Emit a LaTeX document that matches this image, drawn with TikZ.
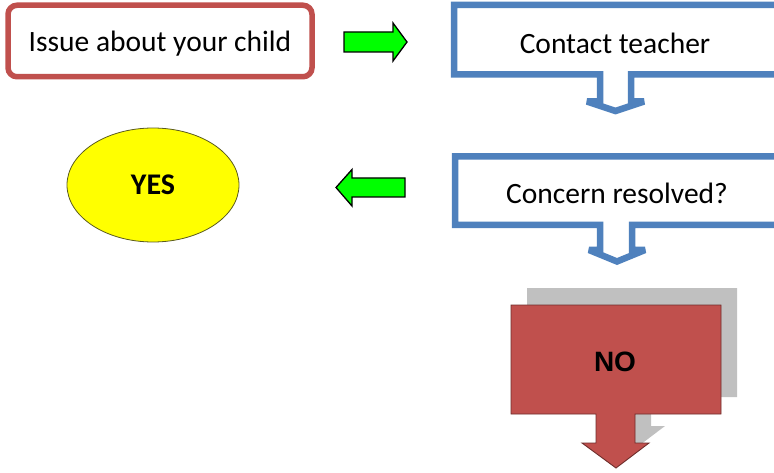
\documentclass[tikz,border=0pt]{standalone}
\usepackage{fontspec}
\setmainfont{Carlito}
\newfontfamily\nofont{Liberation Sans}
\usetikzlibrary{shapes.geometric}
\definecolor{issuered}{RGB}{192,80,77}
\definecolor{calloutblue}{RGB}{79,129,189}
\definecolor{arrowgreen}{RGB}{0,255,0}
\definecolor{shadowgray}{RGB}{192,192,192}
\definecolor{noborder}{RGB}{110,45,43}
\definecolor{yesfill}{RGB}{255,255,0}
\definecolor{yesborder}{RGB}{90,90,30}
\tikzset{
  flowtext/.style={font=\fontsize{29.5}{35}\selectfont, inner sep=0pt},
  issuebox/.style={flowtext, draw=issuered, line width=5.5pt, rounded corners=9pt,
    fill=white, minimum width=304pt, minimum height=71.5pt,
    text height=21pt, text depth=0pt},
  callout/.style={draw=calloutblue, line width=6.5pt, fill=white,
    line join=miter, miter limit=2},
  greenarrow/.style={draw=black, line width=1.3pt, fill=arrowgreen},
  yesnode/.style={ellipse, draw=yesborder, line width=0.8pt, fill=yesfill,
    minimum width=172pt, minimum height=114pt, inner sep=0pt,
    font=\fontsize{30}{35}\selectfont\bfseries},
  noshape/.style={draw=noborder, line width=0.9pt, fill=issuered},
}
\begin{document}
\begin{tikzpicture}[x=1pt,y=-1pt]
    \useasboundingbox (0,0) rectangle (774,473);
    \clip (0,0) rectangle (774,473);

    %BOX
    \node[issuebox] (issue) at (160,41) {Issue about your child};

    %CALLOUT
    \draw[callout] (800,5) -- (454,5) -- (454,74.5) -- (600,74.5) -- (600,101.5)
        -- (587,101.5) -- (615.5,111) -- (644,101.5) -- (631,101.5)
        -- (631,74.5) -- (800,74.5);
    \node[flowtext, anchor=base] (teacher) at (615,53.3) {Contact teacher};

    \draw[callout] (800,156.5) -- (455,156.5) -- (455,225) -- (600,225) -- (600,250)
        -- (589,250) -- (617,261.5) -- (645,250) -- (632,250)
        -- (632,225) -- (800,225);
    \node[flowtext, anchor=base] (concern) at (617,204) {Concern resolved?};

    %GREEN ARROWS
    \draw[greenarrow] (344,32) -- (393,32) -- (393,23) -- (407,42) -- (393,61)
        -- (393,52) -- (344,52) -- cycle;
    \draw[greenarrow] (405,178) -- (352,178) -- (352,169.5) -- (336,187.5) -- (352,206)
        -- (352,197) -- (405,197) -- cycle;

    %YES
    \node[yesnode] (yes) at (153,185) {YES};

    %NO
    \fill[shadowgray, shift={(16,-17)}] (511,305) -- (721,305) -- (721,414) -- (635,414)
        -- (635,443) -- (649,443) -- (616,468) -- (582,443) -- (596,443)
        -- (596,414) -- (511,414) -- cycle;
    \draw[noshape] (511,305) -- (721,305) -- (721,414) -- (635,414)
        -- (635,443) -- (649,443) -- (616,468) -- (582,443) -- (596,443)
        -- (596,414) -- (511,414) -- cycle;
    \node[font=\nofont\fontsize{28}{32}\selectfont\bfseries] (no) at (615,361.5) {NO};
\end{tikzpicture}
\end{document}
